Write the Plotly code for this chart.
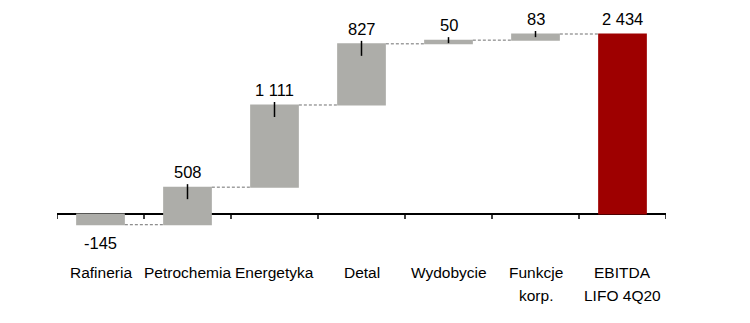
import plotly.graph_objects as go

# EBITDA LIFO bridge by segment
categories = ["Rafineria", "Petrochemia", "Energetyka", "Detal", "Wydobycie",
              "Funkcje\nkorp.", "EBITDA\nLIFO 4Q20"]
values = [-145, 508, 1111, 827, 50, 83, 2434]
measures = ["relative"] * 6 + ["total"]

GRAY = "#ADADA9"
RED = "#9E0000"
FONT = "Liberation Sans"

x = list(range(len(categories)))

# running bases and tops of each bar
bottoms, tops = [], []
run = 0
for v, m in zip(values, measures):
    if m == "total":
        lo, hi = 0, v
    else:
        lo, hi = sorted((run, run + v))
        run += v
    bottoms.append(lo)
    tops.append(hi)

fig = go.Figure(go.Waterfall(
    x=x, y=values, measure=measures,
    width=0.56,
    increasing=dict(marker=dict(color=GRAY)),
    decreasing=dict(marker=dict(color=GRAY)),
    totals=dict(marker=dict(color=RED)),
    connector=dict(mode="between", line=dict(color="#6F6F6F", width=1, dash="3px,2px")),
    hoverinfo="skip",
))

shapes = []
# category axis line along zero
shapes.append(dict(type="line", xref="x", yref="y", x0=-0.5, x1=len(x) - 0.5, y0=0, y1=0,
                   line=dict(color="black", width=2), layer="below"))
# tick marks at category boundaries
for i in range(len(x) + 1):
    shapes.append(dict(type="line", xref="x", yref="y", ysizemode="pixel", yanchor=0,
                       x0=i - 0.5, x1=i - 0.5, y0=0, y1=-5,
                       line=dict(color="black", width=1.5)))

annotations = []
px_per_unit = 180 / 2434
for i, (v, m) in enumerate(zip(values, measures)):
    fmt = f"{v:,}".replace(",", " ")
    h_px = (tops[i] - bottoms[i]) * px_per_unit
    if v >= 0:
        if m != "total":
            below = min(12, max(3, h_px - 3))
            shapes.append(dict(type="line", xref="x", yref="y", ysizemode="pixel", yanchor=tops[i],
                               x0=i, x1=i, y0=3, y1=-below,
                               line=dict(color="black", width=1.5)))
        annotations.append(dict(x=i, y=tops[i], text=fmt, showarrow=False, yshift=15,
                                xanchor="center", yanchor="middle",
                                font=dict(family=FONT, size=16.5, color="black")))
    else:
        annotations.append(dict(x=i, y=bottoms[i], text=fmt, showarrow=False, yshift=-18,
                                xanchor="center", yanchor="middle",
                                font=dict(family=FONT, size=16.5, color="black")))

# category labels below the axis
for i, cat in enumerate(categories):
    for j, line in enumerate(cat.split("\n")):
        annotations.append(dict(x=i, y=0, text=line, showarrow=False, yshift=-58 - 23 * j,
                                xanchor="center", yanchor="middle",
                                font=dict(family=FONT, size=15.5, color="black")))

units_per_px = 2434 / 180
top_px, bottom_px, zero_px, total_px = 5, 255, 214, 34
ymax = 2434 + (total_px - top_px) * units_per_px
ymin = -(bottom_px - zero_px) * units_per_px

fig.update_layout(
    width=750, height=323,
    margin=dict(l=57, r=84, t=top_px, b=323 - bottom_px),
    paper_bgcolor="white", plot_bgcolor="white",
    showlegend=False,
    xaxis=dict(visible=False, range=[-0.5, len(x) - 0.5]),
    yaxis=dict(visible=False, range=[ymin, ymax]),
    shapes=shapes,
    annotations=annotations,
)

fig.write_html("out.html")
